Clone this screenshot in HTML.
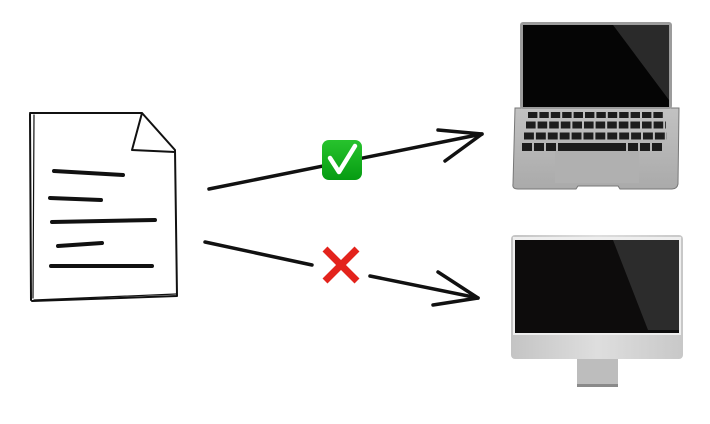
<!DOCTYPE html>
<html><head><style>html,body{margin:0;padding:0;background:#fff;width:710px;height:424px;overflow:hidden}</style></head>
<body>
<svg width="710" height="424" viewBox="0 0 710 424" xmlns="http://www.w3.org/2000/svg">
<defs>
<linearGradient id="g1" x1="0" y1="0" x2="0" y2="1"><stop offset="0" stop-color="#27c32d"/><stop offset="1" stop-color="#069c12"/></linearGradient>
<linearGradient id="al" x1="0" y1="0" x2="0" y2="1"><stop offset="0" stop-color="#c2c2c2"/><stop offset="1" stop-color="#aaa"/></linearGradient>
<linearGradient id="chin" x1="0" y1="0" x2="1" y2="0"><stop offset="0" stop-color="#c4c4c4"/><stop offset="0.5" stop-color="#dedede"/><stop offset="1" stop-color="#c8c8c8"/></linearGradient>
</defs>
<g fill="none" stroke="#111" stroke-linecap="round" stroke-linejoin="round">
<path d="M30 114 L31 300 M30 113 L142 113 L175 150 L177 296 M142 113 L132 150 L175 152 M32 301 L177 296" stroke-width="2"/>
<path d="M34 115 L33 298 M34 300 L176 294" stroke-width="1.2"/>
<g stroke-width="4">
<path d="M54 171 L123 175"/><path d="M50 198 L101 200"/><path d="M52 222 L155 220"/><path d="M58 246 L102 243"/><path d="M51 266 L152 266"/>
</g>
<g stroke-width="3.5">
<path d="M209 189 L482 134"/><path d="M438 130 L482 134 L445 161"/>
<path d="M205 242 L312 265"/><path d="M370 276 L478 298"/><path d="M438 272 L478 298 L433 305"/>
</g>
</g>
<rect x="322" y="140" width="40" height="40" rx="7" fill="url(#g1)"/>
<path d="M330 158 L339 172 L355 146" fill="none" stroke="#fff" stroke-width="4.5" stroke-linecap="round" stroke-linejoin="round"/>
<path d="M325 249 L357 281 M357 249 L325 281" stroke="#e3231c" stroke-width="7"/>
<!-- laptop -->
<path d="M515 108 L679 108 L678 184 Q677 189 672 189 L620 189 L618 186 L578 186 L576 189 L518 189 Q512 189 513 184 Z" fill="url(#al)" stroke="#777" stroke-width="1"/>
<rect x="520" y="22" width="152" height="87" rx="3" fill="#9c9c9c"/>
<rect x="523" y="25" width="146" height="82" fill="#050505"/>
<path d="M613 25 L669 25 L669 100 Z" fill="#2a2a2a"/>
<g stroke="#1d1d1d" fill="none">
<path d="M528 115 L664 115" stroke-width="6" stroke-dasharray="9.4 2"/>
<path d="M526 125 L666 125" stroke-width="7" stroke-dasharray="9.6 2"/>
<path d="M524 136 L667 136" stroke-width="7" stroke-dasharray="9.9 2"/>
<path d="M522 147 L668 147" stroke-width="8" stroke-dasharray="10 2 10 2 10 2 68 2 10 2 10 2 10"/>
</g>
<rect x="555" y="151" width="84" height="32" fill="#b0b0b0"/>
<!-- monitor -->
<rect x="577" y="355" width="41" height="32" fill="#bdbdbd"/>
<rect x="577" y="384" width="41" height="3" fill="#8a8a8a"/>
<rect x="511" y="235" width="172" height="124" rx="4" fill="url(#chin)"/>
<rect x="513" y="237" width="168" height="98" fill="#eee"/>
<rect x="515" y="240" width="164" height="93" fill="#0d0c0c"/>
<path d="M613 240 L679 240 L679 330 L648 330 Z" fill="#2c2c2c"/>
</svg>
</body></html>
